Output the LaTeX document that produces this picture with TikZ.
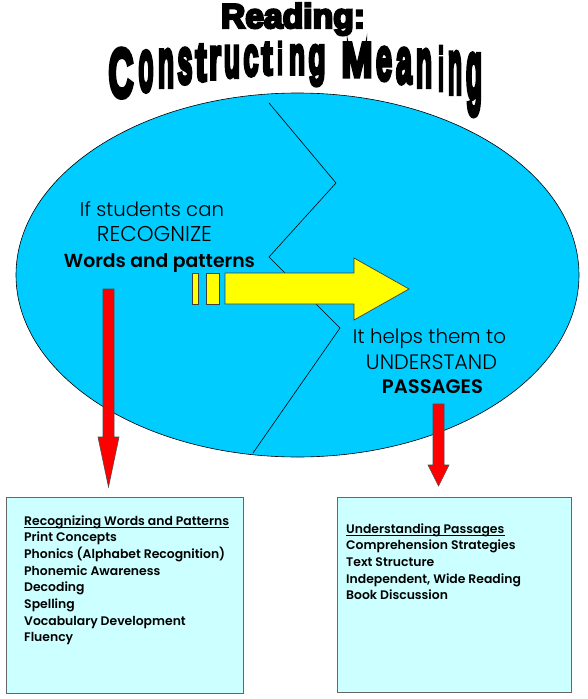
\documentclass[tikz,border=0pt]{standalone}
\usepackage{fontspec}
\usepackage{graphicx}
\setmainfont{Poppins}
\newfontfamily\impactfont{Liberation Sans Bold}[FakeBold=7]
\newfontfamily\cglight{Poppins Light}
\newfontfamily\cgsemi{Poppins SemiBold}
\definecolor{ellcyan}{HTML}{00CCFF}
\definecolor{boxcyan}{HTML}{CCFFFF}
\definecolor{arryellow}{HTML}{FFFF00}
\definecolor{arrred}{HTML}{FF0000}
\tikzset{
  ellstyle/.style={draw=black, line width=0.6pt, fill=ellcyan},
  zigstyle/.style={draw=black, line width=0.6pt},
  yarrowstyle/.style={draw=black!75, line width=0.7pt, fill=arryellow, line join=miter},
  rarrowstyle/.style={draw=black!70, line width=0.6pt, fill=arrred, line join=miter},
  boxstyle/.style={draw=black!60, line width=0.9pt, fill=boxcyan, rectangle, inner sep=0pt},
  boxtext/.style={anchor=base west, inner sep=0pt, font=\cgsemi\fontsize{12.4}{15}\selectfont},
  underl/.style={line width=0.8pt},
  elltext/.style={anchor=base, inner sep=0pt},
}
\begin{document}
\begin{tikzpicture}[x=1pt, y=-1pt]
\useasboundingbox (0,0) rectangle (587,699);
\fill[white] (0,0) rectangle (587,699);

% title
\node[anchor=base, inner sep=0pt] (reading) at (293,28) {\resizebox{144pt}{25pt}{\impactfont Reading:}};
\foreach \tch/\tx/\tw/\tk [count=\ti] in {C/121/25/1, o/146/15/0.9, n/166/16/0.9, s/185/15/0.9, t/201/11/0.98, r/215/12/0.9, u/232/16/0.9, c/251/15/0.9, t/267/11/0.98, i/280/6/1, n/297/16/0.9, g/317/17/0.9, M/357/31/1, e/384/16/0.9, a/404/16/0.9, n/424/16/0.9, i/441/6/1, n/455/14/0.9, g/474/16/0.9}{
  \pgfmathsetmacro\tuu{((\tx-295)/178)^2}
  \pgfmathsetmacro\tyb{74+24*\tuu}
  \pgfmathsetmacro\tlh{(32+17*\tuu)*\tk}
  \node[anchor=base, inner sep=0pt] (title\ti) at (\tx,\tyb) {\resizebox{\tw pt}{\tlh pt}{\impactfont \tch}};
}

% ellipse
\draw[ellstyle] (297.5,275) ellipse [x radius=281.5, y radius=182];
\coordinate (z1) at (269,103);
\coordinate (z2) at (336,183);
\coordinate (z3) at (269,257);
\coordinate (z4) at (340,328);
\coordinate (z5) at (253,453);
\draw[zigstyle] (z1) -- (z2) -- (z3) -- (z4) -- (z5);

% ellipse texts
\node[elltext] (l1) at (152,216) {\resizebox{144pt}{!}{\cglight If students can}};
\node[elltext] (l2) at (154.5,241) {\resizebox{115pt}{!}{\cglight RECOGNIZE}};
\node[elltext] (l3) at (159.5,267) {\resizebox{191pt}{!}{\cgsemi Words and patterns}};
\node[elltext] (r1) at (429.5,343) {\resizebox{153pt}{!}{\cglight It helps them to}};
\node[elltext] (r2) at (431.5,369) {\resizebox{131pt}{!}{\cglight UNDERSTAND}};
\node[elltext] (r3) at (432.5,393) {\resizebox{101pt}{!}{\cgsemi PASSAGES}};

% yellow arrow
\draw[yarrowstyle] (192,273) rectangle (198,304);
\draw[yarrowstyle] (206,273) rectangle (219,304);
\draw[yarrowstyle] (225,273) -- (354,273) -- (354,258) -- (409,289) -- (354,320) -- (354,304) -- (225,304) -- cycle;

% red arrows
\draw[rarrowstyle] (103,289) -- (114,289) -- (114,437) -- (119,437) -- (108.5,487) -- (98,437) -- (103,437) -- cycle;
\draw[rarrowstyle] (433,404) -- (444,404) -- (444,465) -- (449,465) -- (438.5,486) -- (428,465) -- (433,465) -- cycle;

% boxes
\node[boxstyle, minimum width=237pt, minimum height=196pt, anchor=north west] (lbox) at (6,497) {};
\node[boxstyle, minimum width=234pt, minimum height=195pt, anchor=north west] (rbox) at (337,497) {};

\foreach \txt [count=\ti from 0] in {Recognizing Words and Patterns, Print Concepts, Phonics (Alphabet Recognition), Phonemic Awareness, Decoding, Spelling, Vocabulary Development, Fluency}{
  \node[boxtext] (lt\ti) at (24,{525+16.7*\ti}) {\txt};
}
\draw[underl] ([yshift=-2pt]lt0.base west) -- ([yshift=-2pt]lt0.base east);
\foreach \txt [count=\ti from 0] in {Understanding Passages, Comprehension Strategies, Text Structure, {Independent, Wide Reading}, Book Discussion}{
  \node[boxtext] (rt\ti) at (346,{533+16.7*\ti}) {\txt};
}
\draw[underl] ([yshift=-2pt]rt0.base west) -- ([yshift=-2pt]rt0.base east);
\end{tikzpicture}
\end{document}
